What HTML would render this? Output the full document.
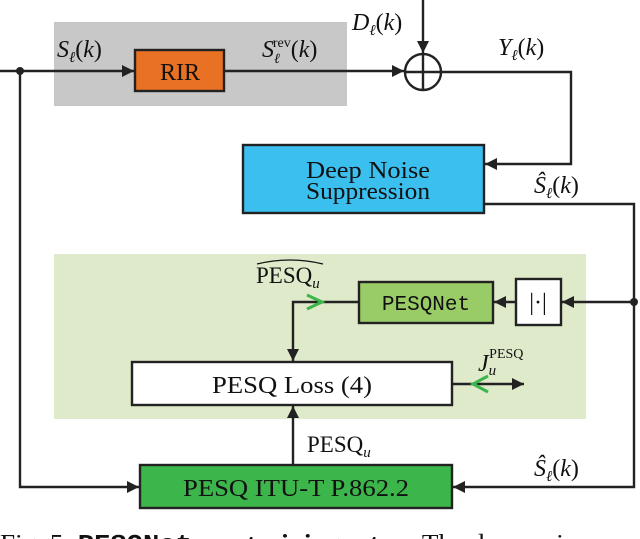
<!DOCTYPE html>
<html><head><style>
body{margin:0;background:#fff;}
svg{display:block;font-family:"Liberation Serif",serif;}
</style></head><body>
<svg width="640" height="539" viewBox="0 0 640 539" xmlns="http://www.w3.org/2000/svg">
<defs>
<marker id="a" viewBox="0 0 10 10" refX="10" refY="5" markerWidth="5" markerHeight="5" orient="auto"><path d="M0,0L10,5L0,10z" fill="#222"/></marker>
</defs>
<rect x="54" y="22" width="293" height="84" fill="#c8c8c9"/>
<rect x="54" y="254" width="532" height="165" fill="#dfeacb"/>
<g stroke="#222" stroke-width="2.4" fill="none">
<line x1="0" y1="71" x2="134" y2="71" marker-end="url(#a)"/>
<line x1="224" y1="71" x2="404" y2="71" marker-end="url(#a)"/>
<line x1="423" y1="0" x2="423" y2="53" marker-end="url(#a)"/>
<circle cx="423" cy="72" r="18"/>
<line x1="423" y1="54" x2="423" y2="90"/>
<line x1="405" y1="72" x2="441" y2="72"/>
<polyline points="441,72 571,72 571,164 485,164" marker-end="url(#a)"/>
<polyline points="484,204 634,204 634,487 453,487" marker-end="url(#a)"/>
<polyline points="20,71 20,487 139,487" marker-end="url(#a)"/>
<line x1="634" y1="302" x2="562" y2="302" marker-end="url(#a)"/>
<line x1="516" y1="302" x2="494" y2="302" marker-end="url(#a)"/>
<polyline points="359,302 293,302 293,361" marker-end="url(#a)"/>
<line x1="293" y1="465" x2="293" y2="406" marker-end="url(#a)"/>
<line x1="452" y1="384" x2="524" y2="384" marker-end="url(#a)"/>
</g>
<circle cx="20" cy="71" r="4" fill="#222"/>
<circle cx="634" cy="302" r="4" fill="#222"/>
<g stroke="#3cb54a" stroke-width="3" fill="none">
<polyline points="307,295 322,302 307,309"/>
<polyline points="488,376 473,384 488,392"/>
</g>
<rect x="135" y="50" width="89" height="41" fill="#e87124" stroke="#222" stroke-width="2.4"/>
<rect x="243" y="145" width="241" height="68" fill="#3bbfef" stroke="#222" stroke-width="2.4"/>
<rect x="359" y="282" width="134" height="41" fill="#99cc66" stroke="#222" stroke-width="2.4"/>
<rect x="516" y="279" width="45" height="46" fill="#fff" stroke="#222" stroke-width="2.4"/>
<rect x="132" y="362" width="320" height="43" fill="#fff" stroke="#222" stroke-width="2.4"/>
<rect x="140" y="465" width="312" height="43" fill="#3cb54a" stroke="#222" stroke-width="2.4"/>
<g font-size="24" fill="#111" text-anchor="middle">
<text x="180" y="80">RIR</text>
<text x="368" y="178" textLength="124" lengthAdjust="spacingAndGlyphs">Deep Noise</text>
<text x="368" y="199" textLength="124" lengthAdjust="spacingAndGlyphs">Suppression</text>
<text x="426" y="310" font-family="Liberation Mono,monospace" font-size="21">PESQNet</text>
<text x="538" y="310">|·|</text>
<text x="292" y="393" textLength="160" lengthAdjust="spacingAndGlyphs">PESQ Loss (4)</text>
<text x="296" y="496" textLength="226" lengthAdjust="spacingAndGlyphs">PESQ ITU-T P.862.2</text>
</g>
<g font-size="24" fill="#111" font-style="italic">
<text x="57" y="57">S<tspan font-size="15" dy="5">ℓ</tspan><tspan dy="-5" font-style="normal">(</tspan>k<tspan font-style="normal">)</tspan></text>
<text x="262" y="57">S<tspan font-size="14" dy="6">ℓ</tspan><tspan font-size="14" dy="-16" dx="-7" font-style="normal">rev</tspan><tspan dy="10" font-style="normal">(</tspan>k<tspan font-style="normal">)</tspan></text>
<text x="352" y="30">D<tspan font-size="15" dy="5">ℓ</tspan><tspan dy="-5" font-style="normal">(</tspan>k<tspan font-style="normal">)</tspan></text>
<text x="498" y="55">Y<tspan font-size="15" dy="5">ℓ</tspan><tspan dy="-5" font-style="normal">(</tspan>k<tspan font-style="normal">)</tspan></text>
<text x="534" y="193">Ŝ<tspan font-size="15" dy="5">ℓ</tspan><tspan dy="-5" font-style="normal">(</tspan>k<tspan font-style="normal">)</tspan></text>
<text x="534" y="476">Ŝ<tspan font-size="15" dy="5">ℓ</tspan><tspan dy="-5" font-style="normal">(</tspan>k<tspan font-style="normal">)</tspan></text>
<text x="478" y="371">J<tspan font-size="15" dy="4">u</tspan><tspan font-size="14" dy="-17" dx="-7" font-style="normal">PESQ</tspan></text>
</g>
<g font-size="23" fill="#111">
<text x="256" y="283">PESQ<tspan font-size="15" dy="5" font-style="italic">u</tspan></text>
<path d="M257,264 Q290,256 323,264" stroke="#111" stroke-width="1.2" fill="none"/>
<text x="307" y="452">PESQ<tspan font-size="15" dy="5" font-style="italic">u</tspan></text>
</g>
<text x="0" y="551" font-size="24" fill="#111" textLength="640" lengthAdjust="spacingAndGlyphs">Fig. 5: <tspan font-family="Liberation Mono,monospace" font-weight="bold">PESQNet</tspan> <tspan font-weight="bold">pre-training setup</tspan>. The deep noise sup-</text>
</svg>
</body></html>
